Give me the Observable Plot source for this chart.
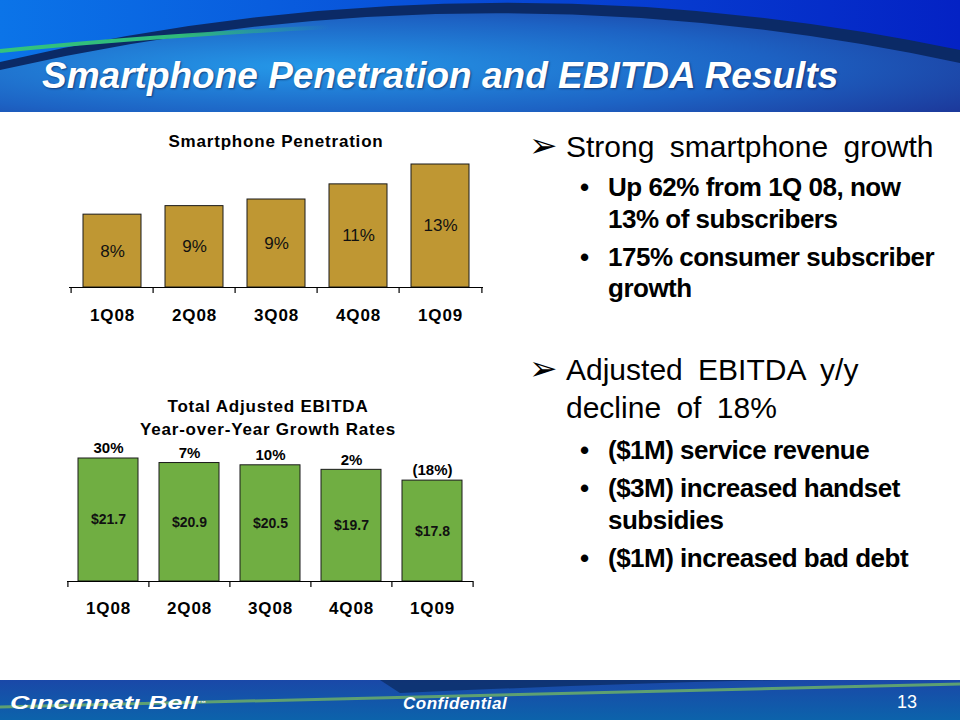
<!DOCTYPE html>
<html>
<head>
<meta charset="utf-8">
<script src="https://cdn.jsdelivr.net/npm/d3@7"></script>
<script src="https://cdn.jsdelivr.net/npm/@observablehq/plot@0.6"></script>
<style>
  html, body { margin: 0; padding: 0; background: #fff; }
  #page { position: relative; width: 960px; height: 720px; overflow: hidden; font-family: "Liberation Sans", Arial, sans-serif; }
  .abs { position: absolute; white-space: nowrap; }
  .ctitle { font-weight: bold; font-size: 17px; letter-spacing: 0.8px; color: #000; text-align: center; line-height: 22px; }
  .h1 { font-size: 30px; line-height: 34px; word-spacing: 7px; color: #000; left: 566px; }
  .h2 { font-size: 26px; line-height: 32px; font-weight: bold; letter-spacing: -0.5px; color: #000; left: 608px; }
  .arrow { font-family: "DejaVu Sans", sans-serif; font-size: 34px; line-height: 36px; left: 529px; color: #000; }
  .dot { font-size: 26px; line-height: 32px; left: 580px; font-weight: bold; }
  .chart svg [aria-label^="x-axis"] text { letter-spacing: 0.8px; }
</style>
</head>
<body>
<div id="page">
  <svg class="abs" width="960" height="112" style="left:0;top:0">
    <defs>
      <linearGradient id="hTop" x1="0" x2="1" y1="0" y2="0">
        <stop offset="0" stop-color="#0b74e8"/><stop offset="1" stop-color="#0422c4"/>
      </linearGradient>
      <radialGradient id="hLow" cx="0.32" cy="0.55" r="0.8">
        <stop offset="0" stop-color="#2598e8"/><stop offset="0.6" stop-color="#1d63c4"/><stop offset="1" stop-color="#1c3a9c"/>
      </radialGradient>
      <linearGradient id="gStripe" x1="0" x2="1" y1="0" y2="0">
        <stop offset="0" stop-color="#33c47e"/><stop offset="0.55" stop-color="#2fb87a"/><stop offset="1" stop-color="#2fb87a" stop-opacity="0"/>
      </linearGradient>
    </defs>
    <rect width="960" height="112" fill="url(#hTop)"/>
    <path d="M0,68 Q480,-42 960,62 L960,112 L0,112 Z" fill="url(#hLow)"/>
    <path d="M0,62 Q480,-50 960,50 L960,63 Q480,-40 0,70 Z" fill="#0b2a66"/>
    <path d="M0,51 Q150,36 330,27" fill="none" stroke="url(#gStripe)" stroke-width="4"/>
  </svg>
  <div class="abs" style="left:42px;top:57px;font-size:37px;line-height:37px;font-weight:bold;font-style:italic;color:#fff;text-shadow:1px 1px 2px rgba(0,0,40,0.5);">Smartphone Penetration and EBITDA Results</div>

  <div class="abs ctitle" style="left:126px;width:300px;top:131px;">Smartphone Penetration</div>
  <div id="chart1" class="abs chart" style="left:60px;top:150px;"></div>

  <div class="abs ctitle" style="left:118px;width:300px;top:396px;">Total Adjusted EBITDA</div>
  <div class="abs ctitle" style="left:118px;width:300px;top:419px;">Year-over-Year Growth Rates</div>
  <div id="chart2" class="abs chart" style="left:60px;top:436px;"></div>

  <div class="abs arrow" style="top:127px;">&#x27A2;</div>
  <div class="abs h1" style="top:130px;">Strong smartphone growth</div>
  <div class="abs dot" style="top:171px;">•</div>
  <div class="abs h2" style="top:171px;">Up 62% from 1Q 08, now</div>
  <div class="abs h2" style="top:203px;">13% of subscribers</div>
  <div class="abs dot" style="top:241px;">•</div>
  <div class="abs h2" style="top:241px;">175% consumer subscriber</div>
  <div class="abs h2" style="top:272px;">growth</div>

  <div class="abs arrow" style="top:350px;">&#x27A2;</div>
  <div class="abs h1" style="top:353px;">Adjusted EBITDA y/y</div>
  <div class="abs h1" style="top:391px;">decline of 18%</div>
  <div class="abs dot" style="top:434px;">•</div>
  <div class="abs h2" style="top:434px;">($1M) service revenue</div>
  <div class="abs dot" style="top:472px;">•</div>
  <div class="abs h2" style="top:472px;">($3M) increased handset</div>
  <div class="abs h2" style="top:504px;">subsidies</div>
  <div class="abs dot" style="top:542px;">•</div>
  <div class="abs h2" style="top:542px;">($1M) increased bad debt</div>

  <svg class="abs" width="960" height="40" style="left:0;top:680px">
    <defs>
      <linearGradient id="fBg" x1="0" x2="0" y1="0" y2="1">
        <stop offset="0" stop-color="#1a48a8"/><stop offset="1" stop-color="#0c63ab"/>
      </linearGradient>
    </defs>
    <rect width="960" height="40" fill="url(#fBg)"/>
    <path d="M380,0 L780,0 Q600,4 400,13 Z" fill="#0c2e66" opacity="0.8"/>
    <path d="M0,27 Q480,16 960,4" fill="none" stroke="#5ea072" stroke-width="3"/>
  </svg>
  <div class="abs" style="left:10px;top:691px;font-size:19px;line-height:24px;font-weight:bold;font-style:italic;color:#fff;transform:scaleX(1.42);transform-origin:left center;">Cıncınnatı Bell<span style="font-size:6px;vertical-align:top;">™</span></div>
  <div class="abs" style="left:403px;top:694px;font-size:17px;line-height:20px;font-weight:bold;font-style:italic;color:#fff;letter-spacing:0.5px;">Confidential</div>
  <div class="abs" style="left:897px;top:692px;font-size:18px;line-height:20px;color:#fff;">13</div>
</div>

<script>
// ---- Data ----
const quarters = ["1Q08", "2Q08", "3Q08", "4Q08", "1Q09"];
const penetration = [7.7, 8.6, 9.3, 10.9, 13.0];
const penetrationLabels = ["8%", "9%", "9%", "11%", "13%"];
const ebitda = [21.7, 20.9, 20.5, 19.7, 17.8];
const ebitdaLabels = ["$21.7", "$20.9", "$20.5", "$19.7", "$17.8"];
const growthLabels = ["30%", "7%", "10%", "2%", "(18%)"];

const penData = quarters.map((q, i) => ({q, v: penetration[i], label: penetrationLabels[i]}));
const ebData = quarters.map((q, i) => ({q, v: ebitda[i], label: ebitdaLabels[i], growth: growthLabels[i]}));

function barChart({data, width, height, mL, mR, mT, mB, pad, fill, tickPadding, valueFont, valueWeight, growth}) {
  const step = (width - mL - mR) / data.length;
  const last = data[data.length - 1].q;
  const marks = [
    Plot.barY(data, {x: "q", y: "v", fill, stroke: "#1a1a1a", strokeWidth: 1}),
    Plot.text(data, {x: "q", y: d => d.v / 2, text: "label", fontSize: valueFont, fontWeight: valueWeight, fill: "#111"}),
    Plot.ruleY([0], {stroke: "#000", strokeWidth: 1.2}),
    Plot.ruleX(data, {x: "q", y1: 0, y2: 0, dx: -step / 2, insetBottom: -6, stroke: "#000", strokeWidth: 1.2}),
    Plot.ruleX([last], {x: d => d, y1: 0, y2: 0, dx: step / 2, insetBottom: -6, stroke: "#000", strokeWidth: 1.2})
  ];
  if (growth) {
    marks.push(Plot.text(data, {x: "q", y: "v", text: "growth", dy: -10, fontSize: 15, fontWeight: "bold", fill: "#000"}));
  }
  return Plot.plot({
    width, height,
    marginLeft: mL, marginRight: mR, marginTop: mT, marginBottom: mB,
    style: {fontFamily: "'Liberation Sans', Arial, sans-serif", fontSize: "17px", fontWeight: "bold", color: "#000", background: "transparent", overflow: "visible"},
    x: {domain: quarters, paddingInner: pad, paddingOuter: pad / 2, tickSize: 0, tickPadding, label: null},
    y: {domain: [0, d3.max(data, d => d.v)], axis: null},
    marks
  });
}

document.getElementById("chart1").append(barChart({
  data: penData, width: 440, height: 180, mL: 9, mR: 17, mT: 14, mB: 43,
  pad: 0.29, fill: "#bf9733", tickPadding: 21, valueFont: 17, valueWeight: "normal"
}));

document.getElementById("chart2").append(barChart({
  data: ebData, width: 440, height: 200, mL: 7, mR: 27, mT: 22, mB: 55,
  pad: 0.26, fill: "#70ae42", tickPadding: 20, valueFont: 14, valueWeight: "bold", growth: true
}));
</script>
</body>
</html>
